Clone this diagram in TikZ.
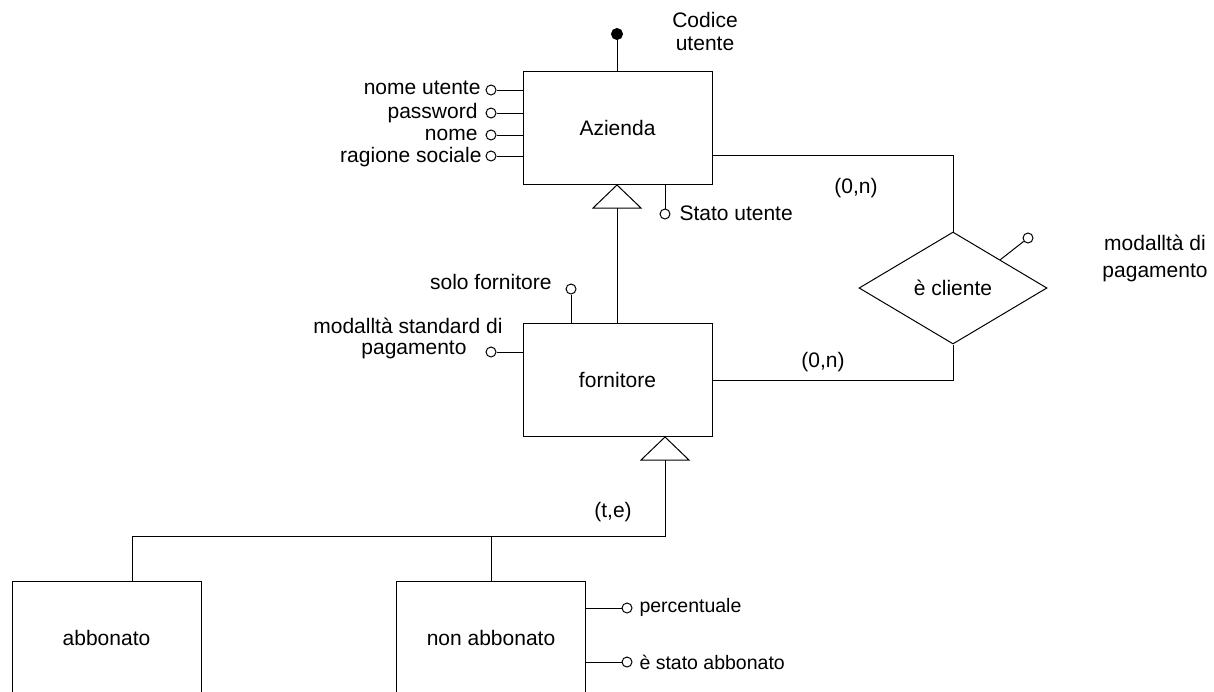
\documentclass[tikz,border=0pt]{standalone}
\usepackage{fontspec}
\setmainfont{Liberation Sans}
\usetikzlibrary{shapes.geometric,calc}
\begin{document}
\begin{tikzpicture}[x=1pt,y=-1pt,
  line width=1pt,
  every node/.style={font=\fontsize{21}{25}\selectfont},
  entity/.style={draw, rectangle, minimum width=189pt, minimum height=113pt, inner sep=0pt},
  relation/.style={draw, diamond, minimum width=188pt, minimum height=112pt, aspect=1.68, inner sep=0pt},
  attr/.style={draw, circle, fill=white, minimum size=10pt, inner sep=0pt},
  keyattr/.style={draw, circle, fill=black, minimum size=11pt, inner sep=0pt},
  lbl/.style={inner sep=0pt},
  small/.style={font=\fontsize{19.5}{23}\selectfont}
]
\useasboundingbox (0,0) rectangle (1214,691);
\clip (0,0) rectangle (1214,691);

% entities and relationship
\node[entity] (az) at (617.5,127.5) {Azienda};
\node[entity] (fo) at (617.5,380) {fornitore};
\node[entity] (ab) at (106.5,637.5) {abbonato};
\node[entity] (na) at (491,637.5) {non abbonato};
\node[relation] (cl) at (953,288) {è cliente};

% Azienda: identifier
\node[keyattr] (kid) at (617,34) {};
\draw (az.north -| kid) -- (kid);
\node[lbl, align=center, font=\fontsize{21}{23}\selectfont] (kidl) at (705,31) {Codice\\utente};

% Azienda: attributes on the left
\node[attr] (a1) at (491,90) {};
\node[attr] (a2) at (491,113) {};
\node[attr] (a3) at (491,135) {};
\node[attr] (a4) at (491,156) {};
\foreach \a in {a1,a2,a3,a4} \draw (\a) -- (\a -| az.west);
\node[lbl, anchor=east] (a1l) at (481,88) {nome utente};
\node[lbl, anchor=east] (a2l) at (478,113) {password};
\node[lbl, anchor=east] (a3l) at (478,135) {nome};
\node[lbl, anchor=east] (a4l) at (482,157) {ragione sociale};

% Azienda: Stato utente
\node[attr] (su) at (665,214) {};
\draw (su) -- (su |- az.south);
\node[lbl, anchor=west] (sul) at (679,213) {Stato utente};

% generalisation Azienda <- fornitore
\coordinate (g1) at (617,185);
\draw (g1) -- ++(-24,23) -- ++(48,0) -- cycle;
\draw (617,208) -- (fo.north -| g1);

% fornitore: attributes
\node[attr] (sf) at (571,289) {};
\draw (sf) -- (sf |- fo.north);
\node[lbl, anchor=east] (sfl) at (552,282) {solo fornitore};
\node[attr] (ms) at (491,352) {};
\draw (ms) -- (ms -| fo.west);
\node[lbl, anchor=east] (msl1) at (503,326) {modalltà standard di};
\node[lbl, anchor=east] (msl2) at (467,350) {pagamento};

% relationship links
\coordinate (c1) at (953,155);
\coordinate (c2) at (953,380);
\draw (az.east |- c1) -- (c1) -- (cl.north);
\draw (fo.east |- c2) -- (c2) -- (cl.south);
\node[lbl] (n1) at (856,188) {(0,n)};
\node[lbl] (n2) at (823,362) {(0,n)};

% relationship attribute
\node[attr] (mp) at (1028,238) {};
\draw ($(cl.north)!0.5!(cl.east)$) -- (mp);
\node[lbl, align=center, font=\fontsize{21}{27}\selectfont] (mpl) at (1155,258) {modalltà di\\pagamento};

% generalisation fornitore <- abbonato, non abbonato
\coordinate (g2) at (665,437);
\draw (g2) -- ++(-24,23) -- ++(48,0) -- cycle;
\coordinate (h) at (665,536);
\coordinate (h1) at (132,536);
\draw (665,460) -- (h) -- (h1) -- (h1 |- ab.north);
\draw (h -| na.north) -- (na.north);
\node[lbl] (te) at (613,512) {(t,e)};

% non abbonato: attributes
\node[attr] (pc) at (627,608) {};
\node[attr] (sa) at (627,662) {};
\draw (pc) -- (pc -| na.east);
\draw (sa) -- (sa -| na.east);
\node[lbl, small, anchor=west] (pcl) at (639,607) {percentuale};
\node[lbl, small, anchor=west] (sal) at (639,662) {è stato abbonato};
\end{tikzpicture}
\end{document}
